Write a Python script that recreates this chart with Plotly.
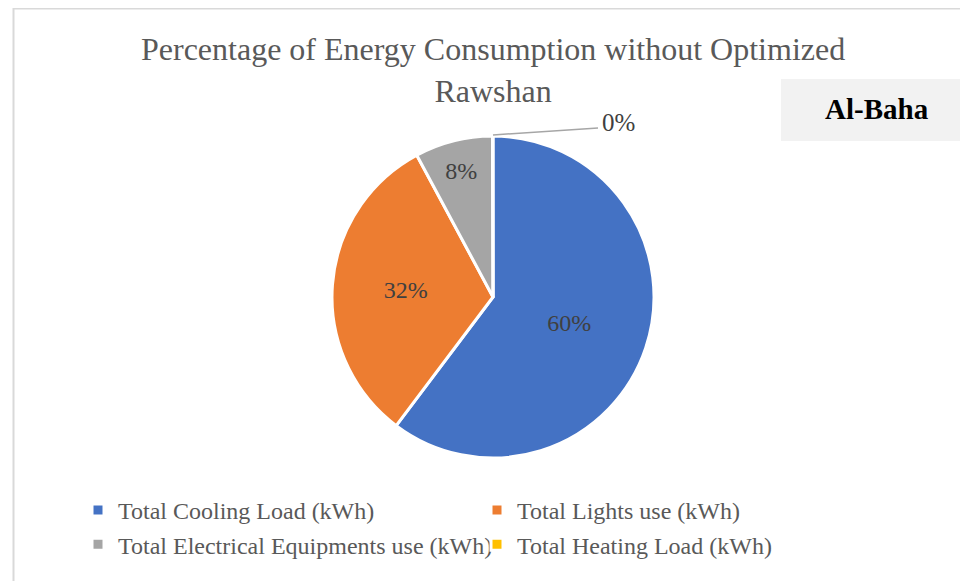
import plotly.graph_objects as go

W, H = 968, 581

categories = ["Total Cooling Load (kWh)", "Total Lights use (kWh)",
              "Total Electrical Equipments use (kWh)", "Total Heating Load (kWh)"]
values = [60.3, 31.9, 7.8, 0.05]
colors = ["#4472C4", "#ED7D31", "#A5A5A5", "#FFC000"]
title_text = "Percentage of Energy Consumption without Optimized<br>Rawshan"
region = "Al-Baha"

total = sum(values)
pct_text = [f"{round(v / total * 100)}%" for v in values]

SERIF = "Liberation Serif, Times New Roman, serif"

# page body has an 8px margin, so screen coordinates are offset by 8px
OFF = 8

def px(x):
    return (x - OFF) / W

def py(y):
    return 1 - (y - OFF) / H

fig = go.Figure()
fig.add_trace(go.Pie(
    labels=categories,
    values=values,
    text=pct_text,
    textinfo="text",
    textposition=["inside", "inside", "inside", "none"],
    insidetextorientation="horizontal",
    textfont=dict(family=SERIF, size=24, color="#404040"),
    marker=dict(colors=colors, line=dict(color="white", width=3)),
    sort=False,
    direction="clockwise",
    rotation=0,
    domain=dict(x=[px(332), px(654)], y=[py(458), py(136)]),
    hoverinfo="label+percent",
))

shapes = [
    dict(type="line", xref="paper", yref="paper", x0=px(13.5), x1=px(13.5), y0=py(8), y1=0,
         line=dict(color="#D9D9D9", width=2)),
    dict(type="line", xref="paper", yref="paper", x0=px(13), x1=1, y0=py(8.5), y1=py(8.5),
         line=dict(color="#D9D9D9", width=2)),
    dict(type="rect", xref="paper", yref="paper", x0=px(781), x1=1, y0=py(141), y1=py(79),
         fillcolor="#F2F2F2", line=dict(width=0), layer="below"),
    dict(type="line", xref="paper", yref="paper", x0=px(493), y0=py(135), x1=px(598), y1=py(128),
         line=dict(color="#A6A6A6", width=1.5)),
]

annotations = [
    dict(text=title_text, xref="paper", yref="paper", x=px(493), y=py(29),
         xanchor="center", yanchor="top", showarrow=False,
         font=dict(family=SERIF, size=32, color="#595959")),
    dict(text=f"<b>{region}</b>", xref="paper", yref="paper", x=px(877), y=py(109),
         xanchor="center", yanchor="middle", showarrow=False,
         font=dict(family=SERIF, size=29, color="#000000")),
    dict(text=pct_text[3], xref="paper", yref="paper", x=px(600), y=py(122),
         xanchor="left", yanchor="middle", showarrow=False,
         font=dict(family=SERIF, size=25, color="#404040")),
]

fig.update_layout(
    width=W, height=H,
    margin=dict(l=0, r=0, t=0, b=0),
    paper_bgcolor="white",
    showlegend=True,
    legend=dict(orientation="h", x=px(78), xanchor="left", y=py(488), yanchor="top",
                entrywidth=354, entrywidthmode="pixels", traceorder="normal",
                font=dict(family=SERIF, size=24, color="#595959"),
                itemwidth=30, tracegroupgap=0),
    shapes=shapes,
    annotations=annotations,
)

fig.write_html("out.html")
